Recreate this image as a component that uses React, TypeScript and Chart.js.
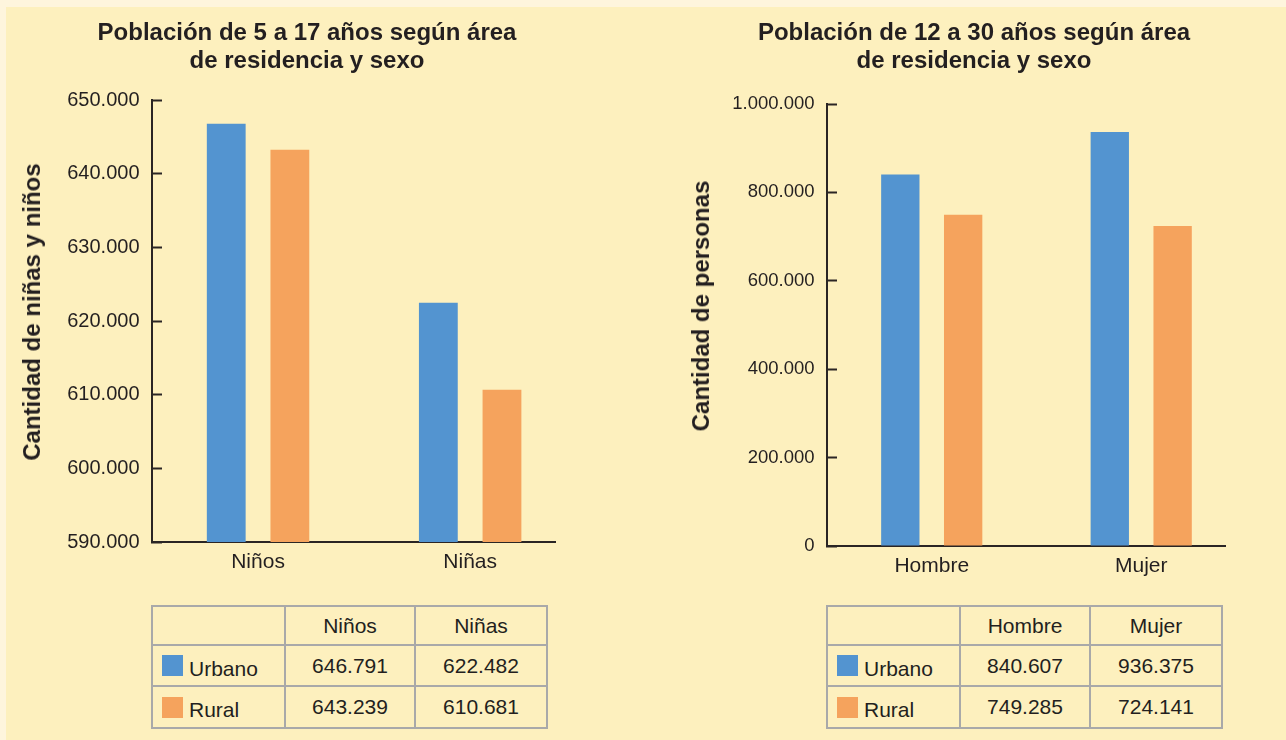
import React, { useEffect, useRef } from "react";
import { Chart, registerables } from "chart.js";

Chart.register(...registerables);

const FONT = "'Liberation Sans', Arial, Helvetica, sans-serif";
const TEXT = "#231F20";
const AXIS = "#2A2524";

const seriesNames = ["Urbano", "Rural"];
const seriesColors = ["#5394D0", "#F5A35D"];

// Left chart
const leftTitle = ["Población de 5 a 17 años según área", "de residencia y sexo"];
const leftYTitle = "Cantidad de niñas y niños";
const leftCategories = ["Niños", "Niñas"];
const leftUrbano = [646791, 622482];
const leftRural = [643239, 610681];
const leftYMin = 590000;
const leftYMax = 650000;
const leftYStep = 10000;

// Right chart
const rightTitle = ["Población de 12 a 30 años según área", "de residencia y sexo"];
const rightYTitle = "Cantidad de personas";
const rightCategories = ["Hombre", "Mujer"];
const rightUrbano = [840607, 936375];
const rightRural = [749285, 724141];
const rightYMin = 0;
const rightYMax = 1000000;
const rightYStep = 200000;

function fmt(n: number): string {
  if (n === 0) return "0";
  return Math.round(n)
    .toString()
    .replace(/\B(?=(\d{3})+(?!\d))/g, ".");
}

type ChartProps = {
  left: number;
  width: number;
  height: number;
  title: string[];
  categories: string[];
  series: number[][];
  yMin: number;
  yMax: number;
  yStep: number;
  yAxisWidth: number;
  xAxisHeight: number;
  titlePadTop: number;
  titlePadBottom: number;
  padRight: number;
  tickFontSize: number;
};

function BarChart(p: ChartProps) {
  const ref = useRef<HTMLCanvasElement | null>(null);
  useEffect(() => {
    if (!ref.current) return;
    const chart = new Chart(ref.current, {
      type: "bar",
      data: {
        labels: p.categories,
        datasets: p.series.map((vals, i) => ({
          label: seriesNames[i],
          data: vals,
          yAxisID: "y",
          backgroundColor: seriesColors[i],
          borderWidth: 0,
          categoryPercentage: 0.6,
          barPercentage: 0.61,
        })),
      },
      options: {
        animation: false,
        responsive: false,
        devicePixelRatio: 1,
        layout: { padding: 0 },
        plugins: {
          legend: { display: false },
          tooltip: { enabled: false },
          title: {
            display: true,
            text: p.title,
            color: TEXT,
            font: { family: FONT, size: 24, weight: "bold", lineHeight: "28px" },
            padding: { top: p.titlePadTop, bottom: p.titlePadBottom },
          },
        },
        scales: {
          x: {
            afterBuildTicks: (s: any) => {
              s._valueRange = 1.9;
            },
            afterFit: (s: any) => {
              s.height = p.xAxisHeight;
            },
            grid: { drawOnChartArea: false, drawTicks: false },
            border: { display: true, color: AXIS, width: 2 },
            ticks: {
              color: TEXT,
              padding: 8,
              font: { family: FONT, size: 21 },
            },
          },
          y: {
            min: p.yMin,
            max: p.yMax,
            afterFit: (s: any) => {
              s.width = p.yAxisWidth;
            },
            grid: {
              drawOnChartArea: false,
              drawTicks: true,
              tickLength: -10,
              tickColor: AXIS,
              tickWidth: 2,
            },
            border: { display: true, color: AXIS, width: 2 },
            ticks: {
              stepSize: p.yStep,
              color: TEXT,
              padding: 22.5,
              font: { family: FONT, size: p.tickFontSize },
              callback: (v: any) => fmt(Number(v)),
            },
          },
          yPad: {
            type: "linear",
            position: "right",
            display: true,
            afterFit: (s: any) => {
              s.width = p.padRight;
            },
            grid: { display: false, drawTicks: false },
            border: { display: false },
            ticks: { display: false },
          },
        },
      } as any,
    });
    return () => chart.destroy();
  }, []);
  return (
    <canvas
      ref={ref}
      width={p.width}
      height={p.height}
      style={{ position: "absolute", left: p.left, top: 0, width: p.width, height: p.height }}
    />
  );
}

function YTitle({ text, cx, cy }: { text: string; cx: number; cy: number }) {
  return (
    <div
      style={{
        position: "absolute",
        left: cx,
        top: cy,
        transform: "translate(-50%, -50%) rotate(-90deg)",
        whiteSpace: "nowrap",
        fontFamily: FONT,
        fontWeight: "bold",
        fontSize: 24,
        lineHeight: "28px",
        color: TEXT,
      }}
    >
      {text}
    </div>
  );
}

type TableProps = {
  left: number;
  categories: string[];
  series: number[][];
};

function DataTable({ left, categories, series }: TableProps) {
  const border = "2px solid #A9A9A9";
  const cell: React.CSSProperties = {
    border,
    padding: 0,
    textAlign: "center",
    verticalAlign: "middle",
  };
  const rowHeights = [39, 41, 42];
  return (
    <table
      style={{
        position: "absolute",
        left,
        top: 605,
        width: 395,
        tableLayout: "fixed",
        borderCollapse: "collapse",
        fontFamily: FONT,
        fontSize: 21,
        color: TEXT,
      }}
    >
      <colgroup>
        <col style={{ width: 133 }} />
        <col style={{ width: 130 }} />
        <col style={{ width: 132 }} />
      </colgroup>
      <tbody>
        <tr style={{ height: rowHeights[0] }}>
          <td style={cell}></td>
          {categories.map((c) => (
            <td key={c} style={cell}>
              {c}
            </td>
          ))}
        </tr>
        {series.map((vals, i) => (
          <tr key={seriesNames[i]} style={{ height: rowHeights[i + 1] }}>
            <td style={{ ...cell, textAlign: "left" }}>
              <div style={{ display: "flex", alignItems: "center", paddingLeft: 9 }}>
                <span
                  style={{
                    display: "inline-block",
                    width: 21,
                    height: 21,
                    background: seriesColors[i],
                    marginRight: 6,
                  }}
                />
                <span style={{ position: "relative", top: 3 }}>{seriesNames[i]}</span>
              </div>
            </td>
            {vals.map((v, j) => (
              <td key={j} style={cell}>
                {fmt(v)}
              </td>
            ))}
          </tr>
        ))}
      </tbody>
    </table>
  );
}

export default function App() {
  useEffect(() => {
    document.body.style.margin = "0";
  }, []);
  return (
    <div
      style={{
        position: "fixed",
        left: 0,
        top: 0,
        width: 1286,
        height: 740,
        overflow: "hidden",
        background: "#FEF5DD",
      }}
    >
      <div
        style={{
          position: "absolute",
          left: 6,
          top: 7,
          right: 0,
          bottom: 0,
          background: "#FDF0BE",
        }}
      />
      <BarChart
        left={0}
        width={614}
        height={600}
        title={leftTitle}
        categories={leftCategories}
        series={[leftUrbano, leftRural]}
        yMin={leftYMin}
        yMax={leftYMax}
        yStep={leftYStep}
        yAxisWidth={152}
        xAxisHeight={58}
        titlePadTop={19.6}
        titlePadBottom={24.4}
        padRight={59}
        tickFontSize={20}
      />
      <BarChart
        left={670}
        width={608}
        height={600}
        title={rightTitle}
        categories={rightCategories}
        series={[rightUrbano, rightRural]}
        yMin={rightYMin}
        yMax={rightYMax}
        yStep={rightYStep}
        yAxisWidth={157}
        xAxisHeight={54}
        titlePadTop={19.6}
        titlePadBottom={28.4}
        padRight={53}
        tickFontSize={18.5}
      />
      <YTitle text={leftYTitle} cx={31.7} cy={312} />
      <YTitle text={rightYTitle} cx={700.7} cy={306} />
      <DataTable left={151} categories={leftCategories} series={[leftUrbano, leftRural]} />
      <DataTable left={826} categories={rightCategories} series={[rightUrbano, rightRural]} />
    </div>
  );
}
